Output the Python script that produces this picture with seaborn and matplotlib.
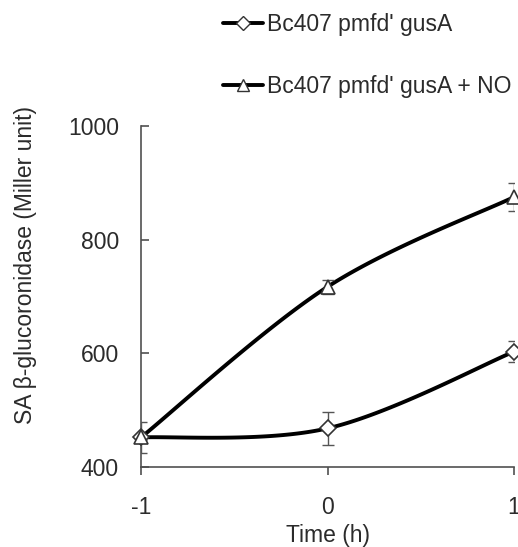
import numpy as np
import matplotlib
matplotlib.use("Agg")
import matplotlib.pyplot as plt
import seaborn as sns
from matplotlib.lines import Line2D

sns.set_style("ticks")
plt.rcParams['font.family'] = ['Liberation Sans', 'DejaVu Sans']
plt.rcParams['axes.unicode_minus'] = False

# data
time = [-1, 0, 1]
ctrl = [452, 468, 603]
ctrl_err = [27, 29, 18]
no = [452, 717, 875]
no_err = [5, 12, 25]

labels = ["Bc407 pmfd' gusA", "Bc407 pmfd' gusA + NO"]
text_col = "#2b2b2b"
spine_col = "#505050"


def smooth(xs, ys, n=60):
    # Excel-like smoothed line: cubic bezier with 1/6 tangents
    p = np.column_stack([xs, ys]).astype(float)
    pts = []
    for i in range(len(p) - 1):
        prev = p[i - 1] if i > 0 else p[i]
        nxt = p[i + 2] if i + 2 < len(p) else p[i + 1]
        c1 = p[i] + (p[i + 1] - prev) / 6
        c2 = p[i + 1] - (nxt - p[i]) / 6
        t = np.linspace(0, 1, n)[:, None]
        seg = ((1 - t) ** 3) * p[i] + 3 * ((1 - t) ** 2) * t * c1 \
            + 3 * (1 - t) * t ** 2 * c2 + t ** 3 * p[i + 1]
        pts.append(seg if i == 0 else seg[1:])
    pts = np.vstack(pts)
    return pts[:, 0], pts[:, 1]


fig = plt.figure(figsize=(5.18, 5.47), dpi=100)
ax = fig.add_axes([141 / 518, 80 / 547, 373 / 518, 341 / 547])

for ys, err, mk, ms in [(ctrl, ctrl_err, 'D', 8.5), (no, no_err, '^', 10.5)]:
    sx, sy = smooth(time, ys)
    sns.lineplot(x=sx, y=sy, sort=False, estimator=None, color='black',
                 linewidth=2.8, ax=ax, zorder=2)
    ax.errorbar(time, ys, yerr=err, fmt='none', ecolor='#555555',
                elinewidth=1.0, capsize=4, capthick=1.0, zorder=3)
    ax.plot(time, ys, linestyle='none', marker=mk, markersize=ms,
            markerfacecolor='white', markeredgecolor='#333333',
            markeredgewidth=1.2, zorder=4, clip_on=False)

ax.set_xlim(-1, 1)
ax.set_ylim(400, 1000)
ax.set_xticks([-1, 0, 1])
ax.set_yticks([400, 600, 800, 1000])
sns.despine(ax=ax)
for s in ['left', 'bottom']:
    ax.spines[s].set_color(spine_col)
    ax.spines[s].set_linewidth(1.2)

ax.tick_params(axis='x', direction='out', length=6, width=1.2, color=spine_col,
               pad=15, labelsize=16.5, labelcolor=text_col)
ax.yaxis.set_tick_params(which='major', direction='in', length=6, width=1.2,
                         color=spine_col, pad=16, labelsize=16.5,
                         labelcolor=text_col)

ax.set_xlabel("Time (h)", fontsize=16.5, color=text_col)
ax.xaxis.set_label_coords(0.5, -0.168)
ax.xaxis.label.set_va('top')
ax.set_ylabel("SA β-glucoronidase (Miller unit)", fontsize=16.5,
              color=text_col)
ax.yaxis.set_label_coords(-0.279, 0.592)

handles = [
    Line2D([], [], color='black', linewidth=2.8, marker='D', markersize=7,
           markerfacecolor='white', markeredgecolor='#333333'),
    Line2D([], [], color='black', linewidth=2.8, marker='^', markersize=9,
           markerfacecolor='white', markeredgecolor='#333333'),
]
leg = fig.legend(handles, labels, loc='upper left',
                 bbox_to_anchor=(223 / 518, 1 - 13 / 547), frameon=False,
                 fontsize=16.5, handlelength=1.75, handletextpad=0.17,
                 labelspacing=1.7, borderpad=0, borderaxespad=0)
for t in leg.get_texts():
    t.set_color(text_col)

fig.savefig("out.png", dpi=100)
